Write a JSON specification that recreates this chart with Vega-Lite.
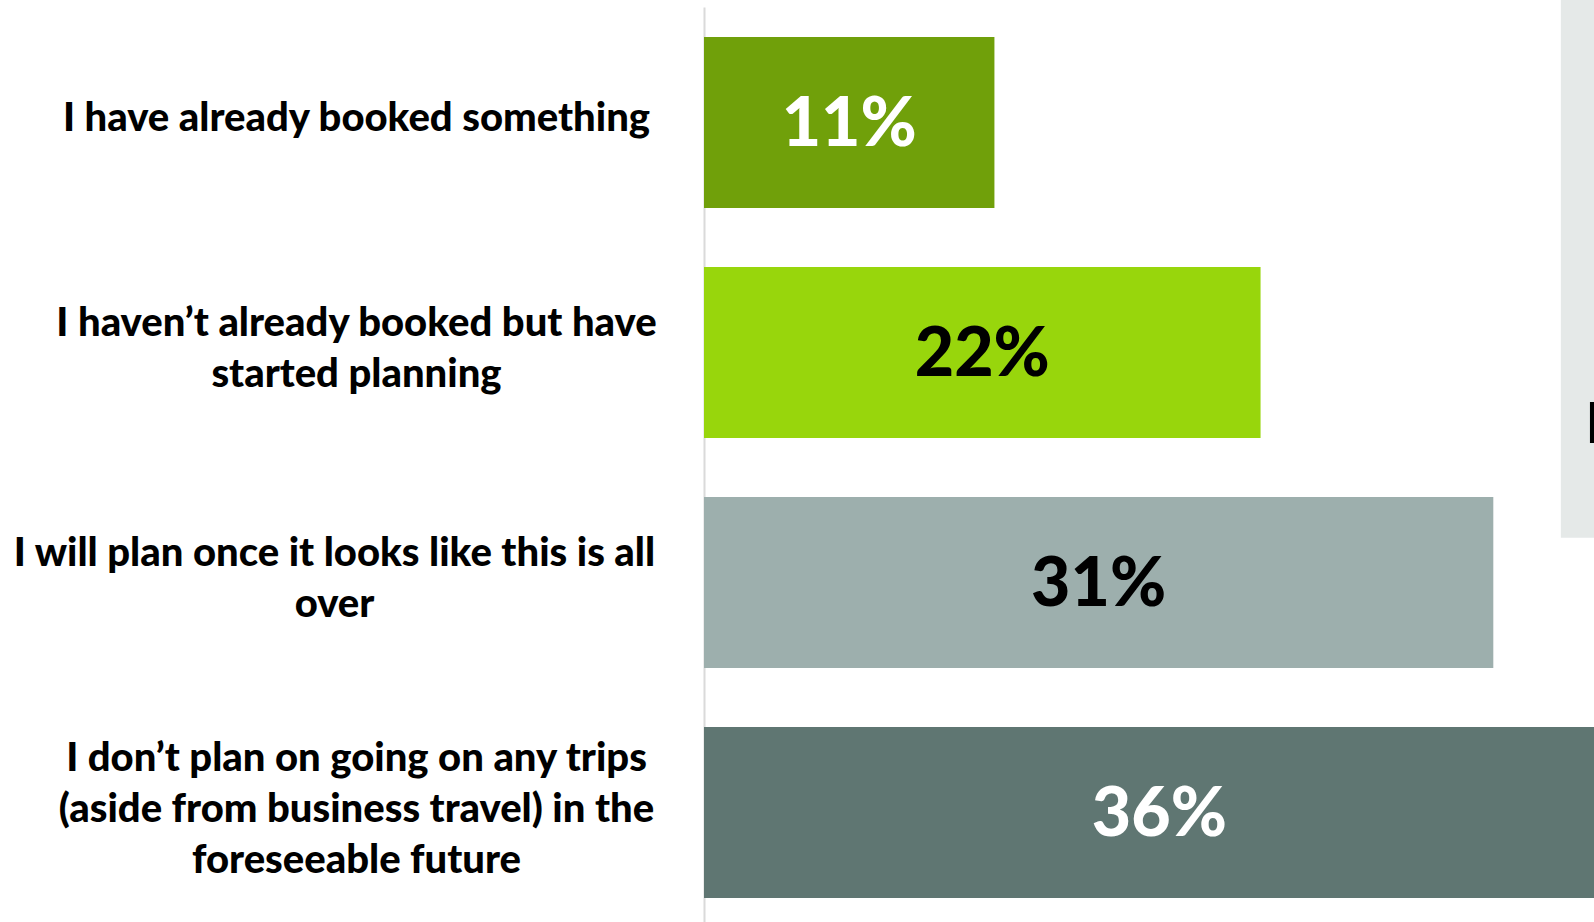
{
  "$schema": "https://vega.github.io/schema/vega-lite/v6.json",
  "width": 890,
  "height": 915,
  "autosize": {"type": "none"},
  "padding": {"left": 704, "top": 7, "right": 0, "bottom": 0},
  "background": "white",
  "config": {"view": {"stroke": null}},
  "layer": [
    {
      "data": {"values": [
        {"kind": "panel", "x0": 0.3387, "x1": 0.37, "y0": -0.01, "y1": 0.580},
        {"kind": "tab", "x0": 0.3502, "x1": 0.37, "y0": 0.4317, "y1": 0.4765}
      ]},
      "mark": {"type": "rect"},
      "encoding": {
        "x": {"field": "x0", "type": "quantitative", "scale": {"domain": [0, 0.3518], "nice": false}, "axis": null},
        "x2": {"field": "x1"},
        "y": {"field": "y0", "type": "quantitative", "scale": {"domain": [0, 1], "reverse": true, "nice": false}, "axis": null},
        "y2": {"field": "y1"},
        "fill": {"condition": {"test": "datum.kind == 'panel'", "value": "#E5E9E8"}, "value": "#000000"}
      }
    },
    {
      "data": {"values": [
        {"category": "I have already booked something", "value": 0.1148},
        {"category": "I haven’t already booked but have|started planning", "value": 0.22},
        {"category": "I will plan once it looks like this is all|over", "value": 0.312},
        {"category": "I don’t plan on going on any trips|(aside from business travel) in the|foreseeable future", "value": 0.36}
      ]},
      "layer": [
        {
          "mark": {"type": "bar"},
          "encoding": {
            "y": {
              "field": "category", "type": "nominal", "sort": null,
              "scale": {"paddingInner": 0.2565, "paddingOuter": 0.1175, "align": 0.556},
              "axis": {
                "title": null,
                "domain": true, "domainColor": "#DADADA", "domainWidth": 2,
                "ticks": false,
                "labelFont": "Lato", "labelFontWeight": 900, "labelFontSize": 40,
                "labelColor": "#000000",
                "labelAlign": "center", "labelBaseline": "middle",
                "labelLineHeight": 51,
                "labelLimit": 0, "labelOverlap": false,
                "labelPadding": {"condition": {"test": "indexof(datum.value, 'I will plan') == 0", "value": 370}, "value": 348},
                "labelOffset": {"condition": [
                  {"test": "indexof(datum.value, 'I don') == 0", "value": -54},
                  {"test": "indexof(datum.value, '|') > 0", "value": -29}
                ], "value": -4},
                "labelExpr": "split(datum.label, '|')"
              }
            },
            "x": {"field": "value", "type": "quantitative", "scale": {"domain": [0, 0.3518], "nice": false}, "axis": null},
            "color": {
              "field": "category", "type": "nominal", "sort": null,
              "scale": {"range": ["#70A00A", "#98D60C", "#9DAFAD", "#5F7672"]},
              "legend": null
            }
          }
        },
        {
          "transform": [{"calculate": "datum.value / 2", "as": "mid"}],
          "mark": {"type": "text", "font": "Lato", "fontWeight": 900, "fontSize": 68, "align": "center", "baseline": "alphabetic", "dy": 23},
          "encoding": {
            "y": {"field": "category", "type": "nominal", "sort": null},
            "x": {"field": "mid", "type": "quantitative"},
            "text": {"field": "value", "type": "quantitative", "format": ".0%"},
            "color": {"condition": {"test": "datum.value < 0.15 || datum.value > 0.34", "value": "#FFFFFF"}, "value": "#000000"}
          }
        }
      ]
    }
  ],
  "resolve": {"scale": {"y": "independent"}}
}
